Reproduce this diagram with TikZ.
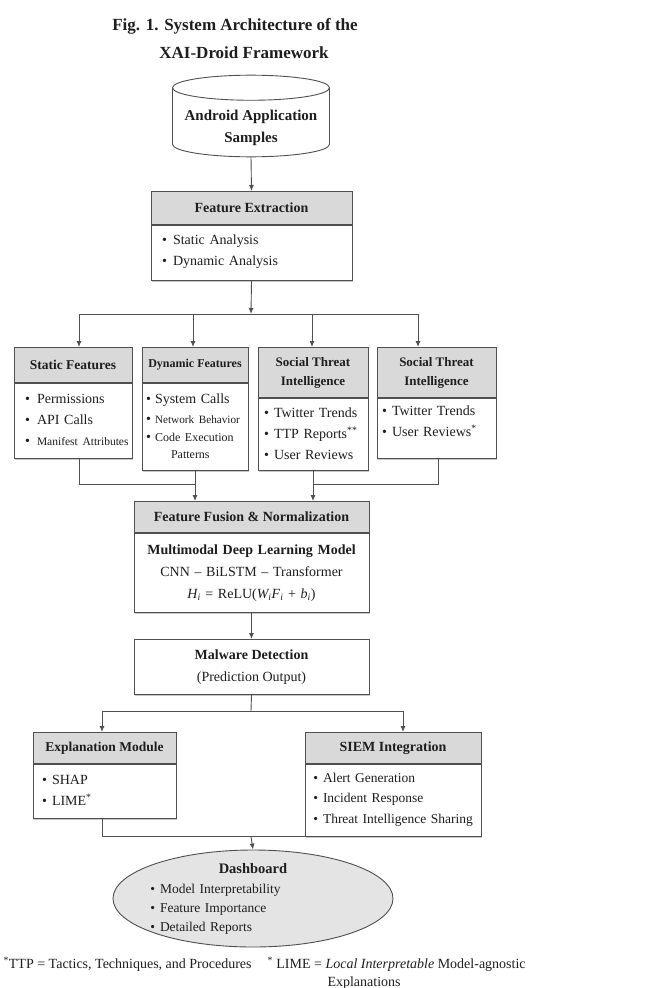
\documentclass[tikz,border=0pt]{standalone}
\usepackage{fontspec}
\setmainfont{Liberation Serif}
\usepackage{enumitem}
\usepackage{tikz}
\usetikzlibrary{arrows.meta, shapes.geometric, positioning, shadows}
\usepackage{xcolor}
\definecolor{BoxLine}{RGB}{80,80,80}
\definecolor{HeadFill}{RGB}{217,217,217}
\definecolor{DashFill}{RGB}{228,228,228}
\definecolor{InkBlack}{RGB}{30,30,30}
\setlist[itemize]{label=\textbullet, labelsep=5pt, leftmargin=12pt, itemsep=4pt,
                  topsep=0pt, parsep=0pt, partopsep=0pt}
\newcommand{\bodyfont}{\fontsize{14}{17}\selectfont}
\newcommand{\tinierfont}{\fontsize{11.5}{14}\selectfont}
\tikzset{
  boxshadow/.style={drop shadow={shadow xshift=1.3pt, shadow yshift=-1.3pt,
                    fill=black!22, opacity=1}},
  headbox/.style={draw=BoxLine, fill=HeadFill, line width=0.9pt, anchor=north, boxshadow,
                  font=\bodyfont\bfseries, align=center, inner sep=2pt},
  bodybox/.style={draw=BoxLine, fill=white, line width=0.9pt, font=\bodyfont, boxshadow,
                  align=left, inner xsep=3pt, inner ysep=2pt},
  listbox/.style={bodybox, execute at end node={\par\vspace{9pt}}},
  arr/.style={draw=BoxLine, line width=0.9pt, -{Latex[length=6pt,width=5pt]}},
  link/.style={draw=BoxLine, line width=0.9pt},
}

\begin{document}
\begin{tikzpicture}[x=1pt, y=-1pt, every node/.append style={text=InkBlack}]
  \useasboundingbox (0,0) rectangle (658,988);

  % title and input
  \node[font=\fontsize{17}{28}\selectfont\bfseries, align=center] (title) at (235,39)
    {Fig. 1. System Architecture of the\\\hspace*{18pt}XAI-Droid Framework};
  \node[cylinder, shape border rotate=90, aspect=0.18, draw=BoxLine, line width=0.9pt,
        fill=white, minimum width=157pt, inner ysep=2pt, align=center,
        anchor=shape center, font=\fontsize{15}{17}\selectfont\bfseries] (apk) at (251,116)
    {\rule{0pt}{18pt}Android Application\\[5pt]Samples};

  % feature extraction
  \node[headbox, minimum width=201pt, minimum height=33pt] (fexh) at (251.5,191) {Feature Extraction};
  \node[listbox, below=0pt of fexh, text width=195pt, minimum height=55pt] (fexb) {%
    \begin{itemize}[leftmargin=19pt, labelsep=6pt]
      \item Static Analysis
      \item Dynamic Analysis
    \end{itemize}};

  % four feature sources
  \node[headbox, minimum width=118pt, minimum height=35pt,
        font=\fontsize{13.5}{16}\selectfont\bfseries] (stath) at (73,347) {Static Features};
  \node[listbox, below=0pt of stath, text width=112pt, minimum height=75pt] (statb) {%
    \begin{itemize}[leftmargin=20pt, labelsep=7pt]
      \item Permissions
      \item API Calls
      \item {\tinierfont Manifest Attributes}
    \end{itemize}};
  \node[headbox, minimum width=106pt, minimum height=35pt,
        font=\fontsize{12}{15}\selectfont\bfseries] (dynh) at (195,347) {Dynamic Features};
  \node[listbox, below=0pt of dynh, inner xsep=2pt, text width=102pt, minimum height=87pt] (dynb) {%
    \begin{itemize}[leftmargin=11pt, labelsep=4pt, itemsep=3pt]
      \item System Calls
      \item {\fontsize{11.2}{14}\selectfont Network Behavior}
      \item {\fontsize{12}{15}\selectfont Code Execution\\\hspace*{16pt}Patterns}
    \end{itemize}};
  \node[headbox, minimum width=110pt, minimum height=50pt,
        font=\fontsize{13}{19}\selectfont\bfseries] (soc1h) at (313,347) {Social Threat\\Intelligence};
  \node[listbox, below=0pt of soc1h, text width=104pt, minimum height=72pt] (soc1b) {%
    \begin{itemize}[leftmargin=13pt]
      \item Twitter Trends
      \item TTP Reports\textsuperscript{**}
      \item User Reviews
    \end{itemize}};
  \node[headbox, minimum width=119pt, minimum height=50pt,
        font=\fontsize{13}{19}\selectfont\bfseries] (soc2h) at (436.5,347) {Social Threat\\Intelligence};
  \node[listbox, below=0pt of soc2h, text width=113pt, minimum height=60pt, inner ysep=0pt,
        execute at end node={\par\vspace{12pt}}] (soc2b) {%
    \begin{itemize}[leftmargin=12pt]
      \item Twitter Trends
      \item User Reviews\textsuperscript{*}
    \end{itemize}};

  % fusion and detection
  \node[headbox, minimum width=235pt, minimum height=31pt] (fush) at (251.5,501) {Feature Fusion \& Normalization};
  \node[bodybox, below=0pt of fush, text width=229pt, minimum height=79pt, align=center] (fusb) {%
    \textbf{Multimodal Deep Learning Model}\\[5pt]
    CNN -- BiLSTM -- Transformer\\[5pt]
    \textit{H\textsubscript{i}} = ReLU(\textit{W\textsubscript{i}F\textsubscript{i}} + \textit{b\textsubscript{i}})};
  \node[bodybox, anchor=north, minimum width=235pt, minimum height=55pt, align=center] (mal) at (251.5,639)
    {\textbf{Malware Detection}\\[5pt](Prediction Output)};

  % outputs
  \node[headbox, minimum width=143pt, minimum height=31pt,
        font=\fontsize{13.5}{16}\selectfont\bfseries] (expnh) at (104.5,732) {Explanation Module};
  \node[listbox, below=0pt of expnh, text width=137pt, minimum height=54pt] (expnb) {%
    \begin{itemize}[leftmargin=16pt]
      \item SHAP
      \item LIME\textsuperscript{*}
    \end{itemize}};
  \node[headbox, minimum width=176pt, minimum height=31pt] (siemh) at (393,732) {SIEM Integration};
  \node[listbox, below=0pt of siemh, text width=170pt, minimum height=72pt, inner ysep=1pt,
        font=\fontsize{13.5}{16.5}\selectfont] (siemb) {%
    \begin{itemize}[leftmargin=15pt]
      \item Alert Generation
      \item Incident Response
      \item Threat Intelligence Sharing
    \end{itemize}};
  \node[ellipse, draw=BoxLine, fill=DashFill, line width=0.9pt, minimum width=280pt,
        minimum height=97pt, inner sep=-8pt, text width=210pt,
        font=\fontsize{13.5}{16}\selectfont] (dash) at (253,898.5) {%
    {\centering\fontsize{14.5}{16}\selectfont\bfseries Dashboard\par}\vspace{4pt}
    \begin{itemize}[itemsep=3pt]
      \item Model Interpretability
      \item Feature Importance
      \item Detailed Reports
    \end{itemize}};

  % footnotes
  \node[anchor=west, font=\bodyfont] (fnttp) at (0,964)
    {\textsuperscript{*}TTP = Tactics, Techniques, and Procedures};
  \node[anchor=west, align=left, font=\bodyfont] (fnlime) at (264,973)
    {\textsuperscript{*} LIME = \textit{Local Interpretable} Model-agnostic\\[1pt]\hspace*{60pt}Explanations};

  % connectors
  \coordinate (split1) at (251,314);
  \coordinate (b1) at (79,314);
  \coordinate (b2) at (193,314);
  \coordinate (b3) at (312,314);
  \coordinate (b4) at (418,314);
  \coordinate (m1) at (79,484);
  \coordinate (m4) at (438,484);
  \coordinate (split2) at (251,711);
  \coordinate (e1) at (102,711);
  \coordinate (e2) at (403,711);
  \coordinate (join) at (split2 |- siemb.south);

  \draw[arr] (apk.south) -- (fexh.north);
  \draw[arr] (fexb.south) -- (split1);
  \draw[link] (b1) -- (b4);
  \foreach \b/\n in {b1/stath, b2/dynh, b3/soc1h, b4/soc2h}
    \draw[arr] (\b) -- (\b |- \n.north);
  \draw[link] (statb.south -| m1) -- (m1) -- (m1 -| dynb.south);
  \draw[arr] (dynb.south) -- (dynb.south |- fush.north);
  \draw[link] (soc2b.south -| m4) -- (m4) -- (m4 -| soc1b.south);
  \draw[arr] (soc1b.south) -- (soc1b.south |- fush.north);
  \draw[arr] (fusb.south) -- (mal.north);
  \draw[link] (mal.south) -- (split2);
  \draw[link] (e1) -- (e2);
  \draw[arr] (e1) -- (e1 |- expnh.north);
  \draw[arr] (e2) -- (e2 |- siemh.north);
  \draw[link] (expnb.south -| e1) |- (siemb.south west);
  \draw[arr] (join) -- (dash.north);
\end{tikzpicture}
\end{document}
